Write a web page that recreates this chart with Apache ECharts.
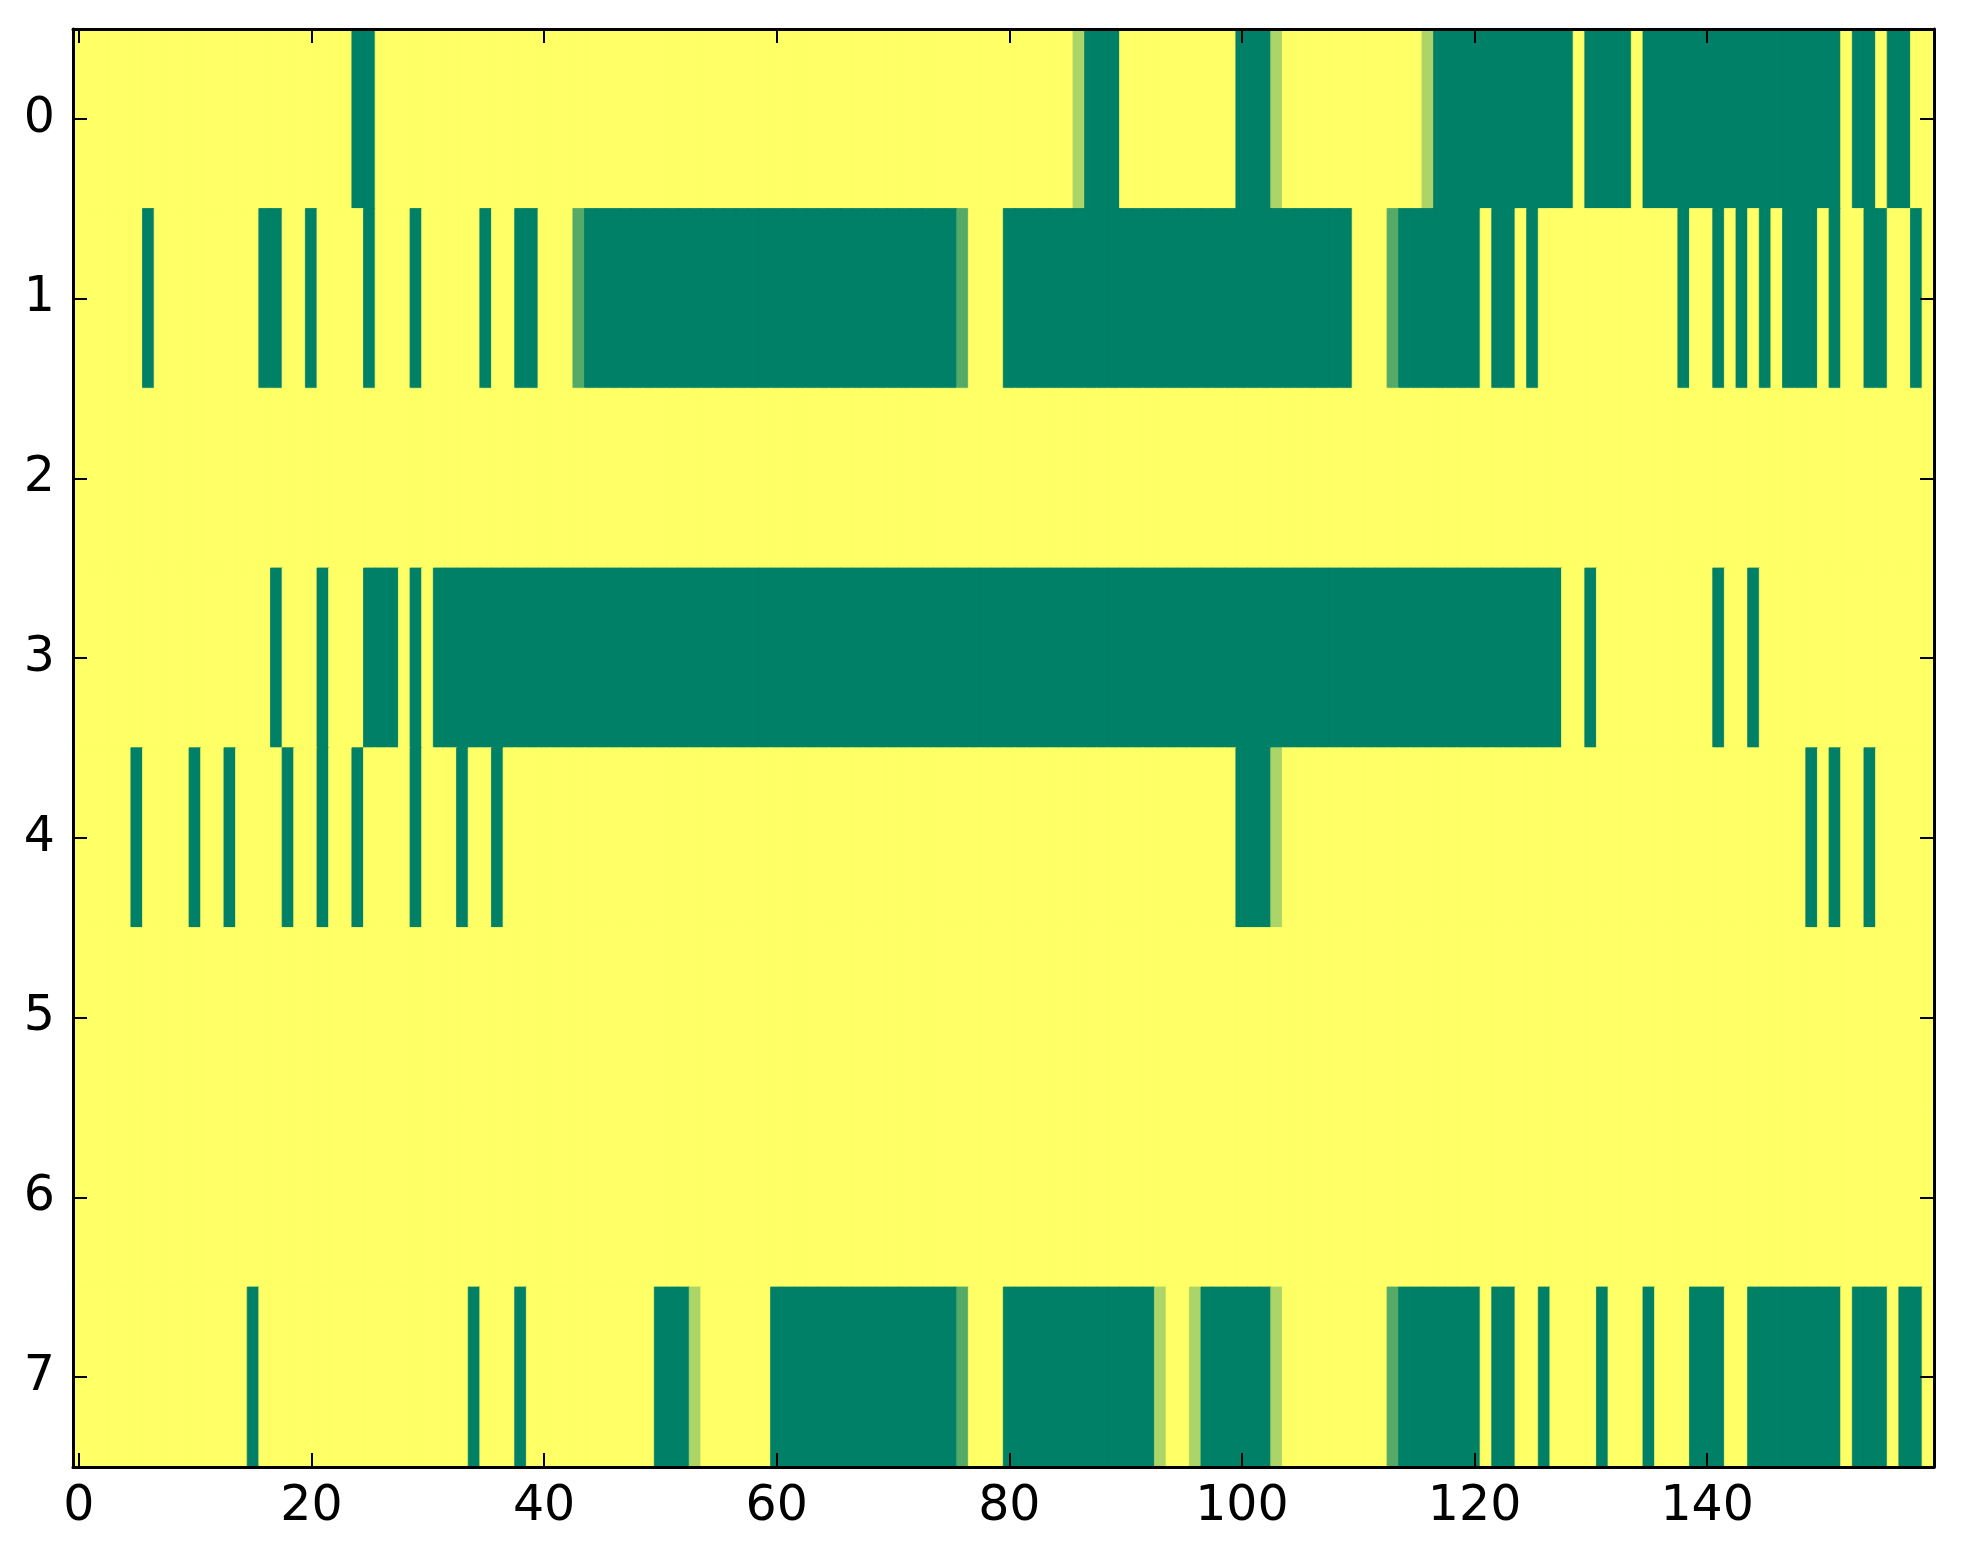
<!DOCTYPE html>
<html>
<head>
<meta charset="utf-8">
<script src="https://cdn.jsdelivr.net/npm/echarts@6/dist/echarts.min.js"></script>
<style>
html,body{margin:0;padding:0;background:#fff;}
#chart{width:1963px;height:1564px;}
</style>
</head>
<body>
<div id="chart"></div>
<script>
// Row labels (y axis, top to bottom)
var rowLabels = ['0','1','2','3','4','5','6','7'];
// Tick labels shown on x axis
var xTickLabels = ['0','20','40','60','80','100','120','140'];

// Cell values per row (160 columns), 1 = yellow, 0 = dark green
var row0 = [1,1,1,1,1,1,1,1,1,1, 1,1,1,1,1,1,1,1,1,1, 1,1,1,1,0,0,1,1,1,1, 1,1,1,1,1,1,1,1,1,1,
            1,1,1,1,1,1,1,1,1,1, 1,1,1,1,1,1,1,1,1,1, 1,1,1,1,1,1,1,1,1,1, 1,1,1,1,1,1,1,1,1,1,
            1,1,1,1,1,1,0.67,0,0,0, 1,1,1,1,1,1,1,1,1,1, 0,0,0,0.67,1,1,1,1,1,1, 1,1,1,1,1,1,0.67,0,0,0,
            0,0,0,0,0,0,0,0,0,1, 0,0,0,0,1,0,0,0,0,0, 0,0,0,0,0,0,0,0,0,0, 0,0,1,0,0,1,0,0,1,1];
var row1 = [1,1,1,1,1,1,0,1,1,1, 1,1,1,1,1,1,0,0,1,1, 0,1,1,1,1,0,1,1,1,0, 1,1,1,1,1,0,1,1,0,0,
            1,1,1,0.33,0,0,0,0,0,0, 0,0,0,0,0,0,0,0,0,0, 0,0,0,0,0,0,0,0,0,0, 0,0,0,0,0,0,0.33,1,1,1,
            0,0,0,0,0,0,0,0,0,0, 0,0,0,0,0,0,0,0,0,0, 0,0,0,0,0,0,0,0,0,0, 1,1,1,0.33,0,0,0,0,0,0,
            0,1,0,0,1,0,1,1,1,1, 1,1,1,1,1,1,1,1,0,1, 1,0,1,0,1,0,1,0,0,0, 1,0,1,1,0,0,1,1,0,1];
var row2 = [1,1,1,1,1,1,1,1,1,1, 1,1,1,1,1,1,1,1,1,1, 1,1,1,1,1,1,1,1,1,1, 1,1,1,1,1,1,1,1,1,1,
            1,1,1,1,1,1,1,1,1,1, 1,1,1,1,1,1,1,1,1,1, 1,1,1,1,1,1,1,1,1,1, 1,1,1,1,1,1,1,1,1,1,
            1,1,1,1,1,1,1,1,1,1, 1,1,1,1,1,1,1,1,1,1, 1,1,1,1,1,1,1,1,1,1, 1,1,1,1,1,1,1,1,1,1,
            1,1,1,1,1,1,1,1,1,1, 1,1,1,1,1,1,1,1,1,1, 1,1,1,1,1,1,1,1,1,1, 1,1,1,1,1,1,1,1,1,1];
var row3 = [1,1,1,1,1,1,1,1,1,1, 1,1,1,1,1,1,1,0,1,1, 1,0,1,1,1,0,0,0,1,0, 1,0,0,0,0,0,0,0,0,0,
            0,0,0,0,0,0,0,0,0,0, 0,0,0,0,0,0,0,0,0,0, 0,0,0,0,0,0,0,0,0,0, 0,0,0,0,0,0,0,0,0,0,
            0,0,0,0,0,0,0,0,0,0, 0,0,0,0,0,0,0,0,0,0, 0,0,0,0,0,0,0,0,0,0, 0,0,0,0,0,0,0,0,0,0,
            0,0,0,0,0,0,0,0,1,1, 0,1,1,1,1,1,1,1,1,1, 1,0,1,1,0,1,1,1,1,1, 1,1,1,1,1,1,1,1,1,1];
var row4 = [1,1,1,1,1,0,1,1,1,1, 0,1,1,0,1,1,1,1,0,1, 1,0,1,1,0,1,1,1,1,0, 1,1,1,0,1,1,0,1,1,1,
            1,1,1,1,1,1,1,1,1,1, 1,1,1,1,1,1,1,1,1,1, 1,1,1,1,1,1,1,1,1,1, 1,1,1,1,1,1,1,1,1,1,
            1,1,1,1,1,1,1,1,1,1, 1,1,1,1,1,1,1,1,1,1, 0,0,0,0.67,1,1,1,1,1,1, 1,1,1,1,1,1,1,1,1,1,
            1,1,1,1,1,1,1,1,1,1, 1,1,1,1,1,1,1,1,1,1, 1,1,1,1,1,1,1,1,1,0, 1,0,1,1,0,1,1,1,1,1];
var row5 = row2.slice();
var row6 = row2.slice();
var row7 = [1,1,1,1,1,1,1,1,1,1, 1,1,1,1,1,0,1,1,1,1, 1,1,1,1,1,1,1,1,1,1, 1,1,1,1,0,1,1,1,0,1,
            1,1,1,1,1,1,1,1,1,1, 0,0,0,0.67,1,1,1,1,1,1, 0,0,0,0,0,0,0,0,0,0, 0,0,0,0,0,0,0.33,1,1,1,
            0,0,0,0,0,0,0,0,0,0, 0,0,0,0.67,1,1,0.67,0,0,0, 0,0,0,0.67,1,1,1,1,1,1, 1,1,1,0.33,0,0,0,0,0,0,
            0,1,0,0,1,1,0,1,1,1, 1,0,1,1,1,0,1,1,1,0, 0,0,1,1,0,0,0,0,0,0, 0,0,1,0,0,0,1,0,0,1];

var rows = [row0,row1,row2,row3,row4,row5,row6,row7];
var nCols = row0.length;
var xCategories = [];
for (var i = 0; i < nCols; i++) xCategories.push(String(i));

// matplotlib "summer" colormap: (v, 0.5 + v/2, 0.4)
function summer(v){
  var r = Math.round(255 * v), g = Math.round(255 * (0.5 + v / 2)), b = 102;
  return 'rgb(' + r + ',' + g + ',' + b + ')';
}

var cells = [];
rows.forEach(function(r, y){
  r.forEach(function(v, x){
    var c = summer(v);
    cells.push({value:[x, y, v], itemStyle:{color:c, borderColor:c, borderWidth:0.8}});
  });
});

function showTick(idx, val){ return xTickLabels.indexOf(String(val)) >= 0; }

var FONT = 'DejaVu Sans';
var spine = {show:true, onZero:false, lineStyle:{color:'#000', width:3}};
var tick = {show:true, inside:true, length:14, alignWithLabel:true, lineStyle:{color:'#000', width:2}};

var chart = echarts.init(document.getElementById('chart'), null, {renderer:'canvas'});
chart.setOption({
  animation:false,
  backgroundColor:'#ffffff',
  grid:{left:73, top:29, width:1861, height:1438, containLabel:false},
  xAxis:[
    {type:'category', data:xCategories, position:'bottom', z:10,
     axisLine:spine, splitLine:{show:false},
     axisTick:Object.assign({}, tick, {interval:showTick}),
     axisLabel:{show:true, interval:showTick, color:'#000', fontSize:49, fontFamily:FONT, margin:16}},
    {type:'category', data:xCategories, position:'top', z:10,
     axisLine:spine, splitLine:{show:false},
     axisTick:Object.assign({}, tick, {interval:showTick}),
     axisLabel:{show:false}}
  ],
  yAxis:[
    {type:'category', data:rowLabels, inverse:true, position:'left', z:10,
     axisLine:spine, splitLine:{show:false},
     axisTick:Object.assign({}, tick, {interval:0}),
     axisLabel:{show:true, interval:0, color:'#000', fontSize:49, fontFamily:FONT, margin:18}},
    {type:'category', data:rowLabels, inverse:true, position:'right', z:10,
     axisLine:spine, splitLine:{show:false},
     axisTick:Object.assign({}, tick, {interval:0}),
     axisLabel:{show:false}}
  ],
  series:[{
    type:'heatmap', xAxisIndex:0, yAxisIndex:0, data:cells,
    progressive:0,
    emphasis:{disabled:true}
  }]
});
</script>
</body>
</html>
